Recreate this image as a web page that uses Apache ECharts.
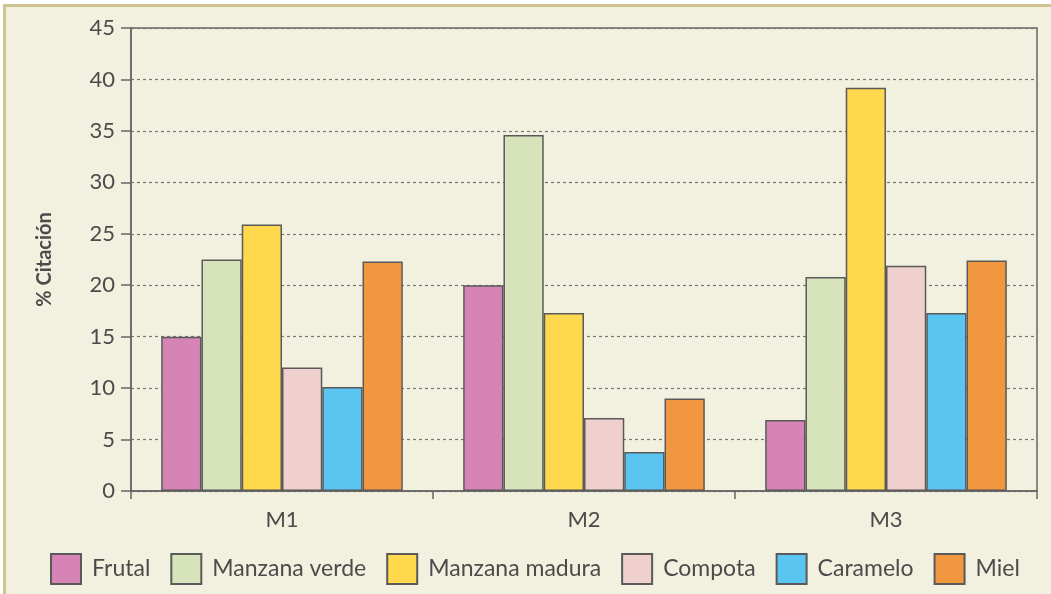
<!DOCTYPE html>
<html>
<head>
    <meta charset="utf-8">
    <script src="https://cdn.jsdelivr.net/npm/echarts@6/dist/echarts.min.js"></script>
    <style>
        body { margin: 0; background: #ffffff; }
        #frame { position: absolute; left: 3px; top: 4px; border-left: 3px solid #cfc38f; border-top: 3px solid #cfc38f; background: #f2f0df; }
        #main { width: 1045px; height: 587px; }
    </style>
</head>
<body>
<div id="frame"><div id="main"></div></div>
<script type="text/javascript">
    var categories = ['M1', 'M2', 'M3'];
    var seriesNames = ['Frutal', 'Manzana verde', 'Manzana madura', 'Compota', 'Caramelo', 'Miel'];
    var frutal = [15, 20, 6.9];
    var manzanaVerde = [22.5, 34.6, 20.8];
    var manzanaMadura = [25.9, 17.3, 39.2];
    var compota = [12, 7.1, 21.9];
    var caramelo = [10.1, 3.8, 17.3];
    var miel = [22.3, 9, 22.4];
    var colors = ['#d683b5', '#d7e3bb', '#fed94d', '#f0d0cd', '#5bc5f2', '#f0973f'];

    var values = [frutal, manzanaVerde, manzanaMadura, compota, caramelo, miel];
    var txt = '#4b4b4b';
    var font = 'Lato';

    var myChart = echarts.init(document.getElementById('main'));
    var series = [];
    for (var i = 0; i < seriesNames.length; i++) {
        series.push({
            name: seriesNames[i],
            type: 'bar',
            data: values[i],
            barGap: '0%',
            barCategoryGap: '20%',
            itemStyle: { color: colors[i], borderColor: '#5a5a5a', borderWidth: 1.5 }
        });
    }
    var option = {
        animation: false,
        textStyle: { fontFamily: font },
        grid: { left: 125, right: 14, top: 21, bottom: 103, show: true, borderColor: '#666', borderWidth: 1.5 },
        legend: {
            left: 39, top: 541,
            itemWidth: 30, itemHeight: 30, itemGap: 20,
            icon: 'rect',
            textStyle: { color: txt, fontSize: 23, fontFamily: font, padding: [0, 0, 0, 6] },
            data: seriesNames
        },
        xAxis: {
            type: 'category',
            data: categories,
            axisLine: { lineStyle: { color: '#666', width: 1.5 } },
            axisTick: { show: true, length: 8, lineStyle: { color: '#666', width: 1.5 } },
            axisLabel: { color: txt, fontSize: 22, margin: 18 }
        },
        yAxis: {
            type: 'value',
            min: 0, max: 45, interval: 5,
            name: '% Citación',
            nameLocation: 'middle',
            nameGap: 76,
            nameTextStyle: { color: txt, fontSize: 20, fontWeight: 'bold' },
            axisLine: { show: true, lineStyle: { color: '#666', width: 1.5 } },
            axisTick: { show: true, length: 10, lineStyle: { color: '#666', width: 1.5 } },
            axisLabel: { color: txt, fontSize: 22, margin: 16 },
            splitLine: { lineStyle: { color: '#777', type: [3, 3], width: 1.2 } }
        },
        series: series
    };
    myChart.setOption(option);
</script>
</body>
</html>
